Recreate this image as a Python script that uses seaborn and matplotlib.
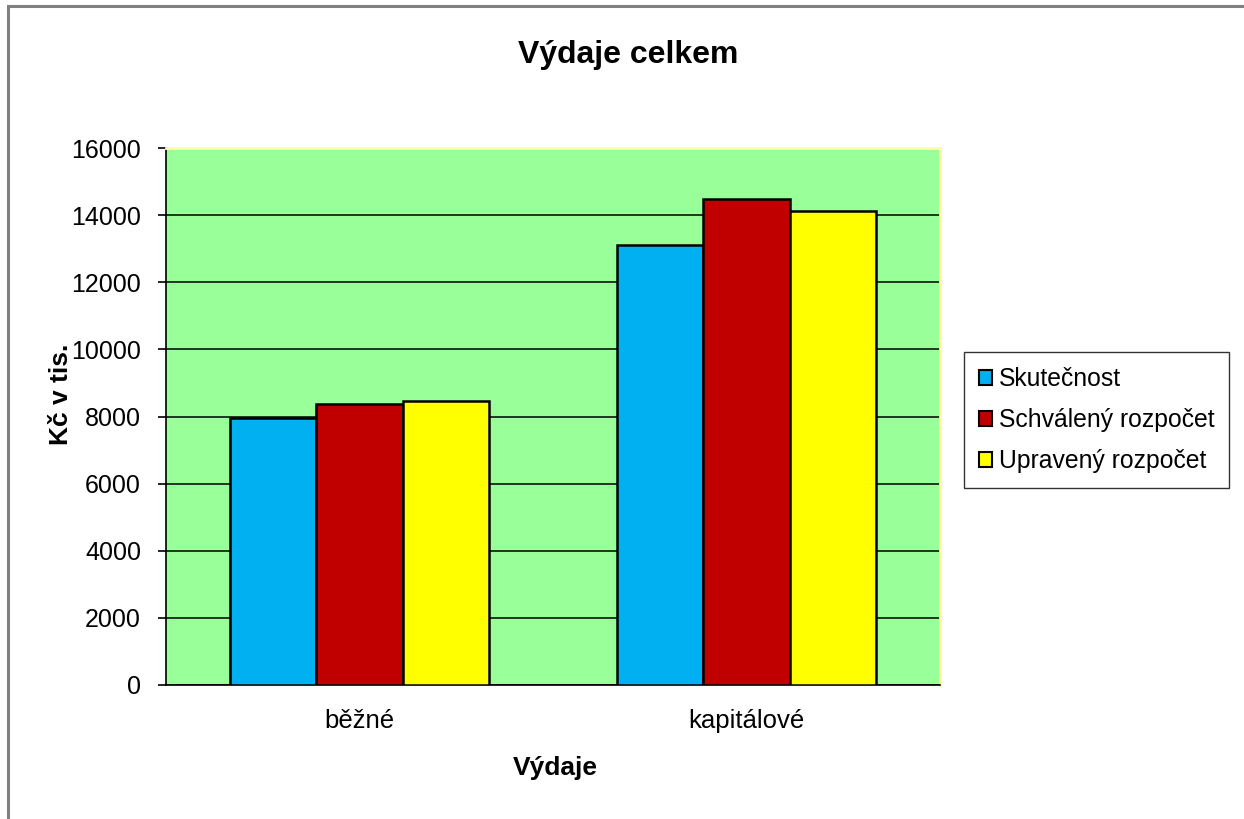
import pandas as pd
import matplotlib.pyplot as plt
import seaborn as sns
from matplotlib.patches import Rectangle

# Values (Kč v tis.)
categories = ['běžné', 'kapitálové']
series_names = ['Skutečnost', 'Schválený rozpočet', 'Upravený rozpočet']
skutecnost = [7960, 13100]
schvaleny = [8360, 14480]
upraveny = [8470, 14130]
colors = ['#00B0F0', '#C00000', '#FFFF00']
y_ticks = [0, 2000, 4000, 6000, 8000, 10000, 12000, 14000, 16000]

# Long format for seaborn
rows = []
for name, vals in zip(series_names, [skutecnost, schvaleny, upraveny]):
    for cat, v in zip(categories, vals):
        rows.append({'Výdaje': cat, 'Řada': name, 'Hodnota': v})
df = pd.DataFrame(rows)

sns.set_style('white')
plt.rcParams['font.family'] = ['Liberation Sans', 'DejaVu Sans']
plt.rcParams['text.color'] = 'black'
plt.rcParams['axes.labelcolor'] = 'black'
plt.rcParams['xtick.color'] = 'black'
plt.rcParams['ytick.color'] = 'black'

fig = plt.figure(figsize=(12.44, 8.19), dpi=100)
ax = fig.add_axes([166 / 1244, 1 - 685 / 819, (940 - 166) / 1244, (685 - 148) / 819])

sns.barplot(data=df, x='Výdaje', y='Hodnota', hue='Řada', order=categories,
            hue_order=series_names, palette=colors, width=0.667,
            edgecolor='black', linewidth=1.8, saturation=1, ax=ax, zorder=3)

ax.set_facecolor('#99FF99')
ax.set_xlim(-0.5, 1.5)
ax.set_ylim(0, 16000)
ax.set_yticks(y_ticks)
ax.set_yticklabels([str(t) for t in y_ticks], fontsize=18)
ax.yaxis.grid(True, color='black', linewidth=1.1, zorder=1)
ax.set_axisbelow(True)

# category labels centred, tick marks at category boundaries (Excel style)
ax.set_xticks([0, 1])
ax.set_xticklabels(categories, fontsize=18.5)
ax.set_xticks([-0.5, 0.5, 1.5], minor=True)
ax.tick_params(axis='x', which='major', length=0, pad=17)
ax.tick_params(axis='x', which='minor', length=6, width=1.2, color='black', direction='out')
ax.tick_params(axis='y', length=6, width=1.2, color='black', direction='out', pad=12, left=True)

for side in ['left', 'bottom']:
    ax.spines[side].set_color('black')
    ax.spines[side].set_linewidth(1.2)
for side in ['top', 'right']:
    ax.spines[side].set_color('#FFFF99')
    ax.spines[side].set_linewidth(2)

ax.set_xlabel('')
ax.set_ylabel('')
fig.text(555 / 1244, 1 - 768 / 819, 'Výdaje', fontsize=19, fontweight='bold', ha='center', va='center')
fig.text(61 / 1244, 1 - 394 / 819, 'Kč v tis.', fontsize=19, fontweight='bold', ha='center', va='center', rotation=90)
fig.text(628 / 1244, 1 - 55 / 819, 'Výdaje celkem', fontsize=23, fontweight='bold', ha='center', va='center')

ax.get_legend().remove()
handles = [Rectangle((0, 0), 1, 1, facecolor=c, edgecolor='black', linewidth=1.5) for c in colors]
leg = fig.legend(handles, series_names, loc='upper left', bbox_to_anchor=(964 / 1244, 1 - 352 / 819),
                 fontsize=17.8, frameon=True, fancybox=False, shadow=False, borderaxespad=0,
                 handlelength=0.55, handleheight=0.55, handletextpad=0.25, labelspacing=0.7,
                 borderpad=0.6)
leg.get_frame().set_edgecolor('black')
leg.get_frame().set_linewidth(1.0)

# outer chart frame (partly cut off at the right and bottom in the reference)
fig.patches.append(Rectangle((8 / 1244, -0.1), 1.2, 1 - 6 / 819 + 0.1, transform=fig.transFigure,
                             fill=False, edgecolor='#808080', linewidth=2.2))

fig.savefig('out.png', dpi=100)
